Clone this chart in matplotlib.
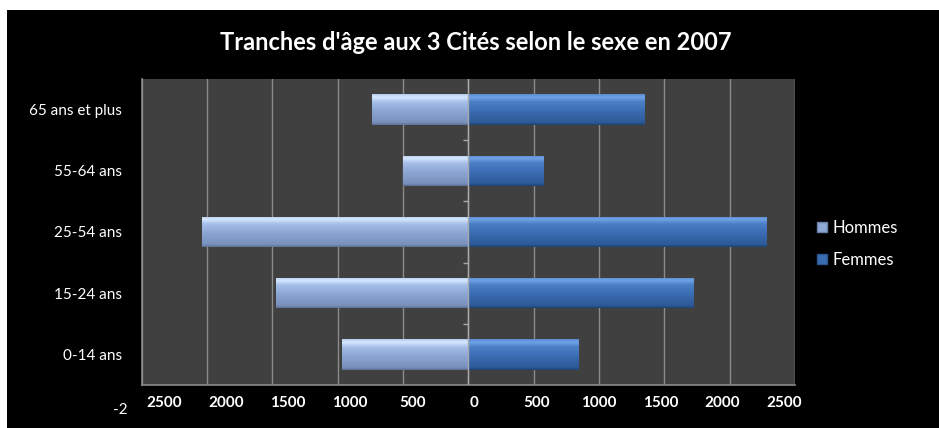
import numpy as np
import matplotlib
matplotlib.use("Agg")
import matplotlib.pyplot as plt
from matplotlib.colors import LinearSegmentedColormap
from matplotlib.lines import Line2D
from matplotlib.transforms import ScaledTranslation

categories = ["0-14 ans", "15-24 ans", "25-54 ans", "55-64 ans", "65 ans et plus"]
hommes = [970, 1475, 2040, 500, 740]
femmes = [845, 1725, 2285, 580, 1350]
grid_ticks = [-2500, -2000, -1500, -1000, -500, 0, 500, 1000, 1500, 2000, 2500]
tick_labels = ["2500", "2000", "1500", "1000", "500", "0", "500", "1000", "1500", "2000", "2500"]
title = "Tranches d'âge aux 3 Cités selon le sexe en 2007"

plt.rcParams["font.family"] = ["Lato", "DejaVu Sans"]

fig = plt.figure(figsize=(9.39, 4.28), dpi=100)
fig.patch.set_facecolor("white")
# black chart area (white strip at top/left in the screenshot)
fig.patches.append(plt.Rectangle((7 / 939, 0), 1, 1 - 10 / 428, transform=fig.transFigure,
                                 facecolor="black", edgecolor="none", zorder=-10))

ax = fig.add_axes([0.151, 0.1005, 0.6956, 0.7149])
ax.set_facecolor("#404040")

y = np.arange(len(categories))
h_bars = ax.barh(y, [-v for v in hommes], height=0.5, color="#8ea9d6", zorder=3)
f_bars = ax.barh(y, femmes, height=0.5, color="#3b6db3", zorder=3)

# bevel-like vertical gradients clipped to each bar
h_cmap = LinearSegmentedColormap.from_list(
    "h", [(0, "#5f7398"), (0.08, "#7990bb"), (0.45, "#8ca6d4"), (0.75, "#a6bfe8"), (0.9, "#d6e8ff"), (1, "#b8cdef")])
f_cmap = LinearSegmentedColormap.from_list(
    "f", [(0, "#1f4378"), (0.08, "#2d5a98"), (0.45, "#3a6cb2"), (0.75, "#4a7fc6"), (0.9, "#6fa2e6"), (1, "#5a8cd2")])
grad = np.linspace(0, 1, 64).reshape(-1, 1)
for bars, cmap in ((h_bars, h_cmap), (f_bars, f_cmap)):
    for b in bars:
        x0, y0, w, hgt = b.get_x(), b.get_y(), b.get_width(), b.get_height()
        im = ax.imshow(grad, cmap=cmap, aspect="auto", origin="lower",
                       extent=(min(x0, x0 + w), max(x0, x0 + w), y0, y0 + hgt), zorder=3.5)
        im.set_clip_path(b)
ax.set_xlim(-2500, 2500)
ax.set_ylim(-0.5, len(categories) - 0.5)

# gridlines
ax.set_xticks(grid_ticks)
ax.tick_params(axis="x", length=0, labelbottom=False)
ax.grid(axis="x", color="#8a8a8a", linewidth=1.0, zorder=1)
ax.axvline(0, color="#a8a8a8", linewidth=1.0, zorder=4)
ax.hlines(np.arange(len(categories) - 1) + 0.5, -40, 0, color="#a8a8a8", linewidth=1.0, zorder=4)

# x labels as in the original (spaced slightly tighter than the grid)
label_pos = np.linspace(-2330, 2420, len(tick_labels))
shift = ax.transData + ScaledTranslation(0, -8 / 72, fig.dpi_scale_trans)
for xp, lab in zip(label_pos, tick_labels):
    ax.text(xp, -0.5, lab, transform=shift, ha="center", va="top",
            color="white", fontsize=11, fontweight="bold")
fig.text(128 / 939, 1 - 410 / 428, "-2", color="white", fontsize=11, ha="right", va="center")

ax.set_yticks(y)
ax.set_yticklabels(categories, color="white", fontsize=11)
ax.tick_params(axis="y", length=0, pad=14)

for s in ["top", "right"]:
    ax.spines[s].set_visible(False)
for s in ["left", "bottom"]:
    ax.spines[s].set_color("#8a8a8a")
    ax.spines[s].set_linewidth(1.2)

fig.text(476 / 939, 1 - 43 / 428, title, color="white", fontsize=17,
         fontweight="bold", ha="center", va="center")

handles = [Line2D([], [], marker="s", linestyle="none", markersize=7, markerfacecolor="#8ea9d6", markeredgecolor="#6a7fa5"),
           Line2D([], [], marker="s", linestyle="none", markersize=7, markerfacecolor="#3b6db3", markeredgecolor="#2a5590")]
leg = fig.legend(handles, ["Hommes", "Femmes"], loc="center left", bbox_to_anchor=(799 / 939, 1 - 244 / 428),
                 frameon=False, fontsize=12, labelcolor="white", handletextpad=0.1,
                 handlelength=1.0, labelspacing=1.0)

fig.savefig("out.png", dpi=100, facecolor=fig.get_facecolor())
